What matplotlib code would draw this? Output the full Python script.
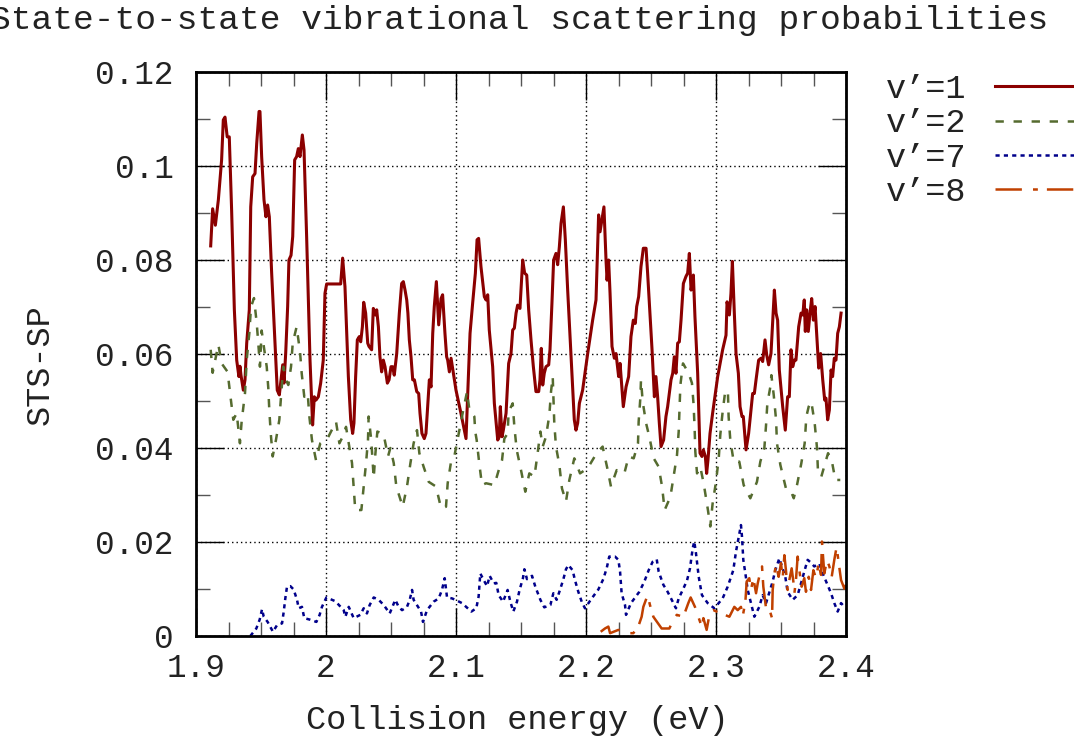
import matplotlib
matplotlib.use("Agg")
import matplotlib.pyplot as plt
from matplotlib.ticker import MultipleLocator

# v'=1
e1 = [1.9113, 1.9128, 1.9149, 1.9172, 1.9197, 1.9210, 1.9223, 1.9240, 1.9256, 1.9274,
      1.9295, 1.9313, 1.9330, 1.9338, 1.9346, 1.9364, 1.9377, 1.9390, 1.9410, 1.9421,
      1.9436, 1.9454, 1.9467, 1.9485, 1.9492, 1.9505, 1.9523, 1.9538, 1.9551, 1.9564,
      1.9582, 1.9608, 1.9625, 1.9641, 1.9654, 1.9667, 1.9677, 1.9690, 1.9705, 1.9715,
      1.9731, 1.9744, 1.9759, 1.9774, 1.9787, 1.9800, 1.9818, 1.9831, 1.9851, 1.9877,
      1.9897, 1.9910, 1.9923, 1.9941, 1.9959, 1.9979, 1.9992, 2.0005, 2.0113, 2.0128,
      2.0146, 2.0172, 2.0190, 2.0205, 2.0215, 2.0228, 2.0241, 2.0256, 2.0267, 2.0280,
      2.0290, 2.0305, 2.0321, 2.0331, 2.0351, 2.0364, 2.0380, 2.0390, 2.0403, 2.0415,
      2.0428, 2.0441, 2.0454, 2.0472, 2.0485, 2.0500, 2.0513, 2.0525, 2.0544, 2.0564,
      2.0582, 2.0595, 2.0608, 2.0621, 2.0630, 2.0641, 2.0654, 2.0667, 2.0680, 2.0698,
      2.0713, 2.0723, 2.0738, 2.0756, 2.0769, 2.0782, 2.0795, 2.0808, 2.0821, 2.0833,
      2.0849, 2.0867, 2.0885, 2.0897, 2.0915, 2.0928, 2.0936, 2.0949, 2.0962, 2.0974,
      2.1000, 2.1038, 2.1077, 2.1090, 2.1108, 2.1128, 2.1149, 2.1162, 2.1174, 2.1192,
      2.1218, 2.1231, 2.1244, 2.1256, 2.1282, 2.1295, 2.1321, 2.1333, 2.1341, 2.1354,
      2.1364, 2.1385, 2.1405, 2.1423, 2.1436, 2.1449, 2.1462, 2.1474, 2.1492, 2.1513,
      2.1528, 2.1544, 2.1559, 2.1577, 2.1595, 2.1615, 2.1636, 2.1646, 2.1656, 2.1667,
      2.1679, 2.1692, 2.1713, 2.1723, 2.1738, 2.1751, 2.1769, 2.1782, 2.1795, 2.1808,
      2.1826, 2.1841, 2.1859, 2.1877, 2.1892, 2.1910, 2.1923, 2.1936, 2.1949, 2.1974,
      2.2013, 2.2051, 2.2077, 2.2097, 2.2108, 2.2118, 2.2138, 2.2154, 2.2162, 2.2174,
      2.2185, 2.2200, 2.2218, 2.2231, 2.2251, 2.2262, 2.2287, 2.2308, 2.2328, 2.2346,
      2.2364, 2.2379, 2.2390, 2.2405, 2.2423, 2.2441, 2.2462, 2.2474, 2.2492, 2.2508,
      2.2526, 2.2538, 2.2551, 2.2564, 2.2577, 2.2597, 2.2615, 2.2628, 2.2641, 2.2654,
      2.2667, 2.2679, 2.2692, 2.2705, 2.2718, 2.2731, 2.2749, 2.2769, 2.2782, 2.2795,
      2.2808, 2.2826, 2.2838, 2.2859, 2.2877, 2.2892, 2.2903, 2.2918, 2.2928, 2.2938,
      2.2954, 2.2974, 2.3013, 2.3051, 2.3077, 2.3085, 2.3103, 2.3115, 2.3126, 2.3141,
      2.3154, 2.3172, 2.3185, 2.3200, 2.3210, 2.3231, 2.3251, 2.3264, 2.3282, 2.3295,
      2.3308, 2.3328, 2.3346, 2.3359, 2.3377, 2.3390, 2.3405, 2.3423, 2.3449, 2.3462,
      2.3474, 2.3487, 2.3513, 2.3533, 2.3551, 2.3564, 2.3577, 2.3590, 2.3603, 2.3615,
      2.3636, 2.3654, 2.3667, 2.3679, 2.3687, 2.3697, 2.3710, 2.3723, 2.3736, 2.3749,
      2.3762, 2.3777, 2.3790, 2.3805, 2.3821, 2.3836, 2.3846, 2.3859, 2.3872, 2.3885,
      2.3897, 2.3910, 2.3923, 2.3936, 2.3949, 2.3962]
p1 = [0.0830, 0.0909, 0.0874, 0.0928, 0.1013, 0.1098, 0.1104, 0.1062, 0.1062, 0.0906,
      0.0694, 0.0587, 0.0552, 0.0574, 0.0555, 0.0523, 0.0545, 0.0623, 0.0694, 0.0913,
      0.0977, 0.0984, 0.1048, 0.1116, 0.1116, 0.1020, 0.0928, 0.0892, 0.0917, 0.0892,
      0.0772, 0.0623, 0.0523, 0.0513, 0.0545, 0.0577, 0.0538, 0.0602, 0.0701, 0.0800,
      0.0810, 0.0850, 0.1013, 0.1020, 0.1037, 0.1020, 0.1066, 0.1034, 0.0850, 0.0587,
      0.0449, 0.0509, 0.0502, 0.0509, 0.0538, 0.0587, 0.0729, 0.0749, 0.0749, 0.0804,
      0.0743, 0.0552, 0.0460, 0.0431, 0.0453, 0.0552, 0.0630, 0.0637, 0.0626, 0.0658,
      0.0710, 0.0687, 0.0623, 0.0616, 0.0609, 0.0697, 0.0683, 0.0694, 0.0658, 0.0594,
      0.0562, 0.0587, 0.0573, 0.0538, 0.0545, 0.0573, 0.0573, 0.0555, 0.0601, 0.0687,
      0.0750, 0.0754, 0.0736, 0.0715, 0.0687, 0.0630, 0.0594, 0.0545, 0.0545, 0.0520,
      0.0516, 0.0474, 0.0431, 0.0420, 0.0431, 0.0488, 0.0545, 0.0530, 0.0644, 0.0701,
      0.0754, 0.0662, 0.0718, 0.0726, 0.0644, 0.0594, 0.0587, 0.0562, 0.0591, 0.0570,
      0.0523, 0.0474, 0.0420, 0.0516, 0.0644, 0.0708, 0.0772, 0.0843, 0.0846, 0.0786,
      0.0722, 0.0715, 0.0726, 0.0651, 0.0573, 0.0495, 0.0417, 0.0424, 0.0488, 0.0424,
      0.0438, 0.0474, 0.0580, 0.0601, 0.0651, 0.0655, 0.0687, 0.0704, 0.0697, 0.0800,
      0.0772, 0.0768, 0.0694, 0.0630, 0.0573, 0.0520, 0.0520, 0.0545, 0.0612, 0.0534,
      0.0559, 0.0573, 0.0577, 0.0609, 0.0708, 0.0800, 0.0814, 0.0790, 0.0828, 0.0878,
      0.0913, 0.0843, 0.0736, 0.0637, 0.0552, 0.0460, 0.0438, 0.0453, 0.0495, 0.0523,
      0.0601, 0.0672, 0.0715, 0.0896, 0.0860, 0.0878, 0.0913, 0.0800, 0.0757, 0.0800,
      0.0729, 0.0616, 0.0591, 0.0601, 0.0552, 0.0580, 0.0488, 0.0530, 0.0552, 0.0637,
      0.0672, 0.0665, 0.0701, 0.0722, 0.0786, 0.0825, 0.0825, 0.0772, 0.0687, 0.0609,
      0.0509, 0.0552, 0.0509, 0.0453, 0.0403, 0.0417, 0.0467, 0.0488, 0.0516, 0.0545,
      0.0559, 0.0594, 0.0559, 0.0623, 0.0626, 0.0672, 0.0750, 0.0765, 0.0772, 0.0814,
      0.0736, 0.0768, 0.0680, 0.0559, 0.0389, 0.0382, 0.0396, 0.0382, 0.0346, 0.0374,
      0.0431, 0.0474, 0.0552, 0.0609, 0.0640, 0.0711, 0.0683, 0.0729, 0.0797, 0.0687,
      0.0601, 0.0559, 0.0488, 0.0467, 0.0467, 0.0396, 0.0431, 0.0467, 0.0516, 0.0516,
      0.0545, 0.0587, 0.0591, 0.0584, 0.0630, 0.0598, 0.0577, 0.0601, 0.0736, 0.0687,
      0.0672, 0.0566, 0.0488, 0.0438, 0.0509, 0.0509, 0.0609, 0.0573, 0.0587, 0.0587,
      0.0658, 0.0687, 0.0683, 0.0715, 0.0648, 0.0694, 0.0648, 0.0687, 0.0718, 0.0672,
      0.0701, 0.0630, 0.0570, 0.0601, 0.0545, 0.0502, 0.0506, 0.0460, 0.0481, 0.0566,
      0.0552, 0.0591, 0.0587, 0.0644, 0.0658, 0.0687]

# v'=2
e2 = [1.9113, 1.9128, 1.9172, 1.9197, 1.9243, 1.9262, 1.9287, 1.9313, 1.9338, 1.9351,
      1.9377, 1.9390, 1.9410, 1.9423, 1.9446, 1.9467, 1.9479, 1.9492, 1.9505, 1.9518,
      1.9544, 1.9556, 1.9564, 1.9575, 1.9590, 1.9615, 1.9641, 1.9654, 1.9672, 1.9692,
      1.9710, 1.9731, 1.9744, 1.9774, 1.9800, 1.9813, 1.9833, 1.9859, 1.9872, 1.9892,
      1.9923, 1.9956, 2.0013, 2.0077, 2.0103, 2.0128, 2.0154, 2.0179, 2.0200, 2.0225,
      2.0272, 2.0290, 2.0308, 2.0323, 2.0328, 2.0348, 2.0359, 2.0367, 2.0379, 2.0395,
      2.0421, 2.0444, 2.0477, 2.0495, 2.0521, 2.0541, 2.0590, 2.0623, 2.0649, 2.0674,
      2.0700, 2.0718, 2.0751, 2.0790, 2.0846, 2.0885, 2.0923, 2.0936, 2.0962, 2.0987,
      2.1021, 2.1056, 2.1085, 2.1103, 2.1141, 2.1148, 2.1159, 2.1179, 2.1200, 2.1231,
      2.1295, 2.1333, 2.1354, 2.1372, 2.1397, 2.1405, 2.1436, 2.1449, 2.1467, 2.1500,
      2.1533, 2.1564, 2.1603, 2.1628, 2.1649, 2.1667, 2.1692, 2.1718, 2.1731, 2.1744,
      2.1756, 2.1769, 2.1795, 2.1815, 2.1846, 2.1872, 2.1910, 2.1954, 2.2013, 2.2082,
      2.2128, 2.2167, 2.2192, 2.2236, 2.2295, 2.2328, 2.2367, 2.2400, 2.2405, 2.2418,
      2.2423, 2.2436, 2.2462, 2.2487, 2.2521, 2.2559, 2.2585, 2.2605, 2.2649, 2.2674,
      2.2700, 2.2713, 2.2726, 2.2746, 2.2790, 2.2815, 2.2828, 2.2836, 2.2841, 2.2854,
      2.2879, 2.2905, 2.2938, 2.2956, 2.2974, 2.3000, 2.3021, 2.3033, 2.3051, 2.3072,
      2.3092, 2.3097, 2.3110, 2.3136, 2.3179, 2.3213, 2.3264, 2.3315, 2.3341, 2.3372,
      2.3385, 2.3395, 2.3418, 2.3426, 2.3444, 2.3462, 2.3469, 2.3495, 2.3538, 2.3572,
      2.3598, 2.3623, 2.3656, 2.3682, 2.3695, 2.3713, 2.3733, 2.3759, 2.3777, 2.3785,
      2.3810, 2.3862, 2.3892, 2.3918, 2.3956]
p2 = [0.0609, 0.0560, 0.0620, 0.0580, 0.0562, 0.0517, 0.0460, 0.0474, 0.0410, 0.0456,
      0.0517, 0.0587, 0.0644, 0.0700, 0.0719, 0.0666, 0.0623, 0.0573, 0.0650, 0.0623,
      0.0573, 0.0528, 0.0480, 0.0431, 0.0382, 0.0417, 0.0460, 0.0509, 0.0573, 0.0545,
      0.0534, 0.0573, 0.0623, 0.0658, 0.0605, 0.0559, 0.0509, 0.0517, 0.0467, 0.0417,
      0.0374, 0.0410, 0.0421, 0.0456, 0.0410, 0.0424, 0.0445, 0.0403, 0.0368, 0.0268,
      0.0268, 0.0318, 0.0368, 0.0417, 0.0467, 0.0417, 0.0368, 0.0336, 0.0385, 0.0435,
      0.0432, 0.0428, 0.0382, 0.0400, 0.0368, 0.0318, 0.0275, 0.0318, 0.0367, 0.0410,
      0.0438, 0.0389, 0.0360, 0.0328, 0.0318, 0.0272, 0.0275, 0.0325, 0.0371, 0.0382,
      0.0431, 0.0481, 0.0520, 0.0481, 0.0467, 0.0435, 0.0417, 0.0367, 0.0321, 0.0325,
      0.0321, 0.0357, 0.0374, 0.0420, 0.0431, 0.0477, 0.0495, 0.0445, 0.0396, 0.0353,
      0.0307, 0.0346, 0.0339, 0.0389, 0.0435, 0.0403, 0.0424, 0.0470, 0.0520, 0.0552,
      0.0453, 0.0403, 0.0364, 0.0314, 0.0286, 0.0332, 0.0378, 0.0346, 0.0357, 0.0389,
      0.0403, 0.0353, 0.0318, 0.0353, 0.0346, 0.0382, 0.0378, 0.0410, 0.0456, 0.0506,
      0.0545, 0.0499, 0.0453, 0.0424, 0.0378, 0.0360, 0.0318, 0.0268, 0.0296, 0.0339,
      0.0385, 0.0435, 0.0534, 0.0580, 0.0559, 0.0538, 0.0491, 0.0438, 0.0392, 0.0346,
      0.0360, 0.0325, 0.0268, 0.0233, 0.0282, 0.0328, 0.0378, 0.0428, 0.0477, 0.0523,
      0.0516, 0.0467, 0.0417, 0.0371, 0.0371, 0.0321, 0.0293, 0.0328, 0.0371, 0.0400,
      0.0449, 0.0495, 0.0530, 0.0555, 0.0513, 0.0460, 0.0410, 0.0364, 0.0314, 0.0311,
      0.0293, 0.0321, 0.0367, 0.0410, 0.0467, 0.0488, 0.0499, 0.0453, 0.0400, 0.0346,
      0.0339, 0.0389, 0.0371, 0.0332, 0.0332]

# v'=7
e7 = [1.9418, 1.9464, 1.9490, 1.9508, 1.9521, 1.9551, 1.9592, 1.9623, 1.9662, 1.9675,
      1.9687, 1.9700, 1.9726, 1.9751, 1.9777, 1.9790, 1.9815, 1.9833, 1.9874, 1.9926,
      1.9951, 1.9969, 2.0003, 2.0072, 2.0136, 2.0149, 2.0175, 2.0213, 2.0264, 2.0290,
      2.0315, 2.0336, 2.0367, 2.0405, 2.0444, 2.0490, 2.0533, 2.0559, 2.0585, 2.0623,
      2.0644, 2.0662, 2.0674, 2.0731, 2.0746, 2.0777, 2.0828, 2.0867, 2.0892, 2.0913,
      2.0931, 2.0969, 2.0995, 2.1046, 2.1118, 2.1156, 2.1174, 2.1187, 2.1213, 2.1239,
      2.1259, 2.1290, 2.1310, 2.1328, 2.1362, 2.1397, 2.1418, 2.1441, 2.1469, 2.1489,
      2.1515, 2.1526, 2.1546, 2.1585, 2.1610, 2.1649, 2.1679, 2.1726, 2.1749, 2.1774,
      2.1800, 2.1826, 2.1846, 2.1864, 2.1897, 2.1915, 2.1941, 2.1967, 2.1992, 2.2044,
      2.2095, 2.2133, 2.2159, 2.2179, 2.2223, 2.2249, 2.2262, 2.2274, 2.2300, 2.2308,
      2.2346, 2.2410, 2.2449, 2.2482, 2.2513, 2.2544, 2.2559, 2.2595, 2.2628, 2.2654,
      2.2692, 2.2713, 2.2744, 2.2777, 2.2800, 2.2821, 2.2833, 2.2846, 2.2867, 2.2892,
      2.2936, 2.2987, 2.3051, 2.3090, 2.3133, 2.3154, 2.3175, 2.3192, 2.3200, 2.3210,
      2.3226, 2.3244, 2.3269, 2.3295, 2.3333, 2.3359, 2.3385, 2.3436, 2.3456, 2.3487,
      2.3533, 2.3551, 2.3590, 2.3628, 2.3654, 2.3679, 2.3705, 2.3731, 2.3756, 2.3795,
      2.3821, 2.3885, 2.3910, 2.3936, 2.3962, 2.3987]
p7 = [0.0000, 0.0016, 0.0035, 0.0057, 0.0041, 0.0030, 0.0009, 0.0023, 0.0027, 0.0052,
      0.0080, 0.0105, 0.0106, 0.0099, 0.0077, 0.0059, 0.0062, 0.0038, 0.0035, 0.0030,
      0.0045, 0.0062, 0.0082, 0.0074, 0.0055, 0.0041, 0.0062, 0.0038, 0.0045, 0.0059,
      0.0048, 0.0066, 0.0082, 0.0077, 0.0066, 0.0048, 0.0077, 0.0062, 0.0055, 0.0062,
      0.0077, 0.0098, 0.0077, 0.0052, 0.0030, 0.0055, 0.0073, 0.0080, 0.0098, 0.0123,
      0.0082, 0.0080, 0.0077, 0.0070, 0.0052, 0.0059, 0.0084, 0.0133, 0.0119, 0.0106,
      0.0128, 0.0112, 0.0113, 0.0087, 0.0073, 0.0098, 0.0073, 0.0052, 0.0073, 0.0098,
      0.0123, 0.0142, 0.0121, 0.0128, 0.0105, 0.0077, 0.0061, 0.0066, 0.0091, 0.0077,
      0.0098, 0.0121, 0.0142, 0.0151, 0.0140, 0.0119, 0.0094, 0.0073, 0.0059, 0.0080,
      0.0099, 0.0121, 0.0144, 0.0169, 0.0169, 0.0162, 0.0137, 0.0091, 0.0066, 0.0045,
      0.0070, 0.0094, 0.0116, 0.0140, 0.0158, 0.0163, 0.0137, 0.0109, 0.0094, 0.0080,
      0.0059, 0.0080, 0.0098, 0.0118, 0.0144, 0.0187, 0.0201, 0.0176, 0.0126, 0.0087,
      0.0070, 0.0059, 0.0080, 0.0105, 0.0140, 0.0180, 0.0211, 0.0236, 0.0211, 0.0162,
      0.0133, 0.0098, 0.0070, 0.0041, 0.0062, 0.0087, 0.0070, 0.0116, 0.0140, 0.0165,
      0.0126, 0.0094, 0.0077, 0.0087, 0.0112, 0.0137, 0.0162, 0.0156, 0.0148, 0.0154,
      0.0133, 0.0091, 0.0070, 0.0052, 0.0070, 0.0062]

# v'=8
e8 = [2.2113, 2.2146, 2.2172, 2.2185, 2.2249, 2.2326, 2.2364, 2.2402, 2.2428, 2.2441,
      2.2474, 2.2492, 2.2518, 2.2582, 2.2641, 2.2672, 2.2698, 2.2749, 2.2787, 2.2805,
      2.2838, 2.2890, 2.2903, 2.2928, 2.2954, 2.2979, 2.3005, 2.3103, 2.3141, 2.3167,
      2.3192, 2.3205, 2.3226, 2.3236, 2.3256, 2.3269, 2.3287, 2.3308, 2.3321, 2.3338,
      2.3354, 2.3364, 2.3385, 2.3405, 2.3431, 2.3436, 2.3449, 2.3462, 2.3482, 2.3500,
      2.3513, 2.3526, 2.3538, 2.3551, 2.3564, 2.3582, 2.3595, 2.3603, 2.3615, 2.3628,
      2.3641, 2.3659, 2.3679, 2.3692, 2.3713, 2.3731, 2.3749, 2.3769, 2.3790, 2.3808,
      2.3815, 2.3833, 2.3854, 2.3872, 2.3890, 2.3910, 2.3928, 2.3944, 2.3962, 2.3987,
      2.4000]
p8 = [0.0009, 0.0016, 0.0020, 0.0006, 0.0013, 0.0006, 0.0006, 0.0020, 0.0041, 0.0062,
      0.0087, 0.0066, 0.0041, 0.0016, 0.0016, 0.0034, 0.0045, 0.0041, 0.0070, 0.0082,
      0.0062, 0.0020, 0.0038, 0.0013, 0.0052, 0.0055, 0.0052, 0.0041, 0.0062, 0.0055,
      0.0062, 0.0041, 0.0073, 0.0116, 0.0123, 0.0098, 0.0123, 0.0091, 0.0112, 0.0133,
      0.0148, 0.0105, 0.0059, 0.0062, 0.0038, 0.0098, 0.0133, 0.0151, 0.0126, 0.0155,
      0.0123, 0.0172, 0.0140, 0.0098, 0.0119, 0.0144, 0.0116, 0.0091, 0.0119, 0.0169,
      0.0140, 0.0105, 0.0123, 0.0094, 0.0126, 0.0098, 0.0140, 0.0123, 0.0155, 0.0130,
      0.0201, 0.0133, 0.0162, 0.0148, 0.0126, 0.0162, 0.0190, 0.0155, 0.0119, 0.0101,
      0.0109]

x_ticks = [1.9, 2.0, 2.1, 2.2, 2.3, 2.4]
x_labels = ["1.9", "2", "2.1", "2.2", "2.3", "2.4"]
y_ticks = [0, 0.02, 0.04, 0.06, 0.08, 0.1, 0.12]
y_labels = ["0", "0.02", "0.04", "0.06", "0.08", "0.1", "0.12"]

FONT = ["Liberation Mono", "DejaVu Sans Mono"]
FS_TICK = 23.5
FS = 24.2
TXT = "#222222"

plt.rcParams["font.family"] = FONT
plt.rcParams["lines.scale_dashes"] = False

fig = plt.figure(figsize=(10.74, 7.39), dpi=100)
ax = fig.add_axes([196 / 1074, 1 - 636 / 739, 650 / 1074, 564 / 739])

ax.plot(e1, p1, color="#8b0000", lw=2.2, label="v\u2019=1")
ax.plot(e2, p2, color="#556b2f", lw=1.8, ls=(0, (6, 7)), label="v\u2019=2")
ax.plot(e7, p7, color="#00008b", lw=1.8, ls=(0, (3, 3)), label="v\u2019=7")
ax.plot(e8, p8, color="#c04000", lw=1.8, ls=(0, (19, 8, 3.5, 6.5)), label="v\u2019=8")

ax.set_xlim(1.9, 2.4)
ax.set_ylim(0, 0.12)
ax.set_xticks(x_ticks)
ax.set_xticklabels(x_labels)
ax.set_yticks(y_ticks)
ax.set_yticklabels(y_labels)
ax.xaxis.set_minor_locator(MultipleLocator(0.025))
ax.yaxis.set_minor_locator(MultipleLocator(0.01))
ax.tick_params(which="major", direction="in", length=20, width=1.0,
               top=True, right=True, labelsize=FS_TICK, color="black")
ax.tick_params(which="minor", direction="in", length=10, width=1.0,
               top=True, right=True, color="#555555")
ax.tick_params(axis="x", which="major", pad=12)
ax.tick_params(axis="y", which="major", pad=16)
for lab in ax.get_xticklabels() + ax.get_yticklabels():
    lab.set_color(TXT)

ax.grid(True, which="major", color="black", lw=1.0, ls=(0, (1, 2.2)))
ax.set_axisbelow(True)
for s in ax.spines.values():
    s.set_linewidth(2.0)
    s.set_color("black")

leg = ax.legend(loc="upper left", bbox_to_anchor=(886 / 1074, 1 - 74 / 739),
                bbox_transform=fig.transFigure, frameon=False, markerfirst=False,
                fontsize=FS, handlelength=3.6, handletextpad=0.85, labelspacing=0.1,
                borderpad=0, borderaxespad=0)
for t in leg.get_texts():
    t.set_color(TXT)

# the reference title runs slightly past the left edge too
fig.text(519 / 1074, 1 - 20 / 739, "State-to-state vibrational scattering probabilities",
         ha="center", va="center", fontsize=24.8, color=TXT)
fig.text(517 / 1074, 1 - 721 / 739, "Collision energy (eV)",
         ha="center", va="center", fontsize=FS, color=TXT)
fig.text(40 / 1074, 1 - 365 / 739, "STS-SP", rotation=90,
         ha="center", va="center", fontsize=FS, color=TXT)

fig.savefig("out.png", dpi=100)
